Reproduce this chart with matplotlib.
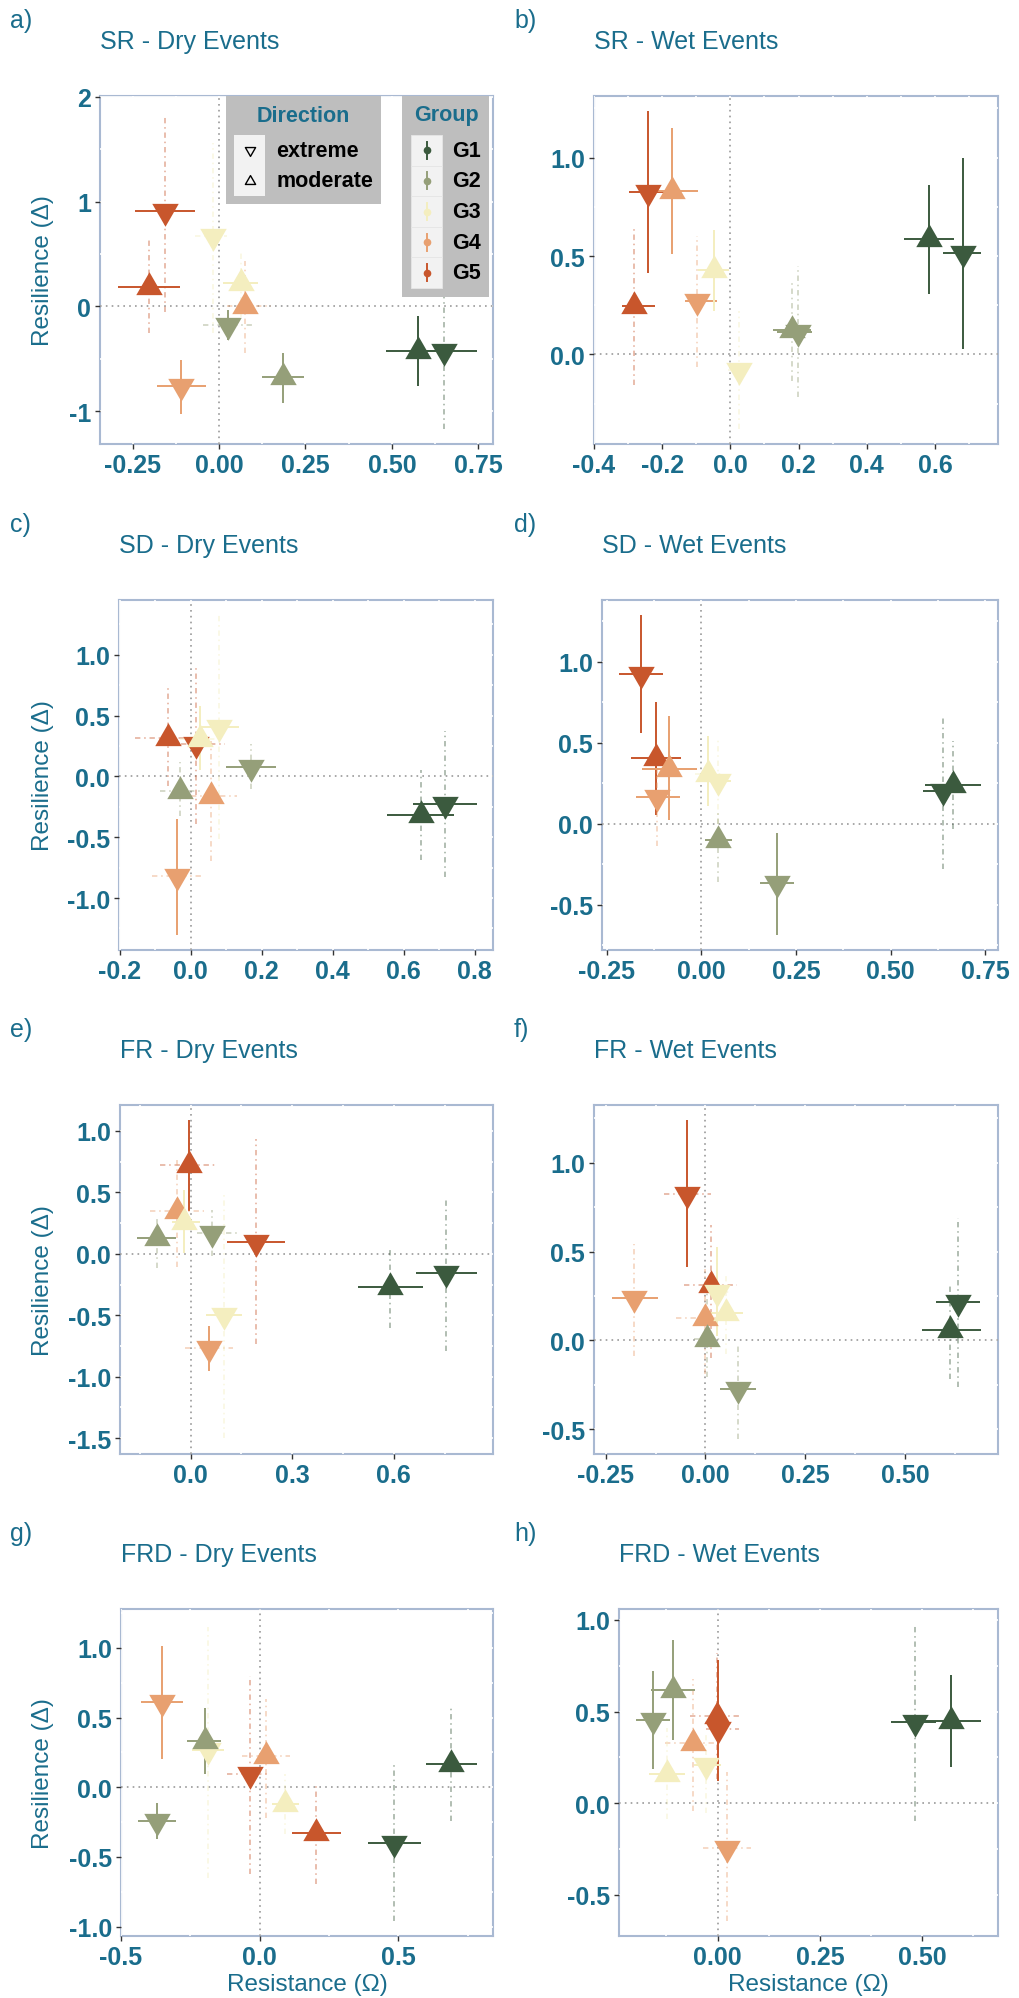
import numpy as np
import matplotlib.pyplot as plt
from matplotlib.path import Path
from matplotlib.patches import Rectangle
from matplotlib.lines import Line2D

plt.rcParams['font.family'] = ['Liberation Sans', 'DejaVu Sans']

W, H = 1019, 1999
TEAL = '#1a6d8c'
SPINE = '#a9b9d2'

GROUPS = ['G1', 'G2', 'G3', 'G4', 'G5']
GROUP_COLORS = {'G1': '#3b5a3e', 'G2': '#959f79', 'G3': '#f4eebf',
                'G4': '#e8a070', 'G5': '#c8562c'}
DIRECTIONS = ['extreme', 'moderate']

# group, direction, x, x_lo, x_hi, x_solid, y, y_lo, y_hi, y_solid
SR_DRY = [
    ('G1', 'extreme', 0.650, 0.564, 0.747, 1, -0.420, -1.170, 0.330, 0),
    ('G1', 'moderate', 0.576, 0.482, 0.626, 1, -0.422, -0.760, -0.095, 1),
    ('G2', 'extreme', 0.026, -0.046, 0.100, 0, -0.175, -0.320, -0.030, 1),
    ('G2', 'moderate', 0.184, 0.125, 0.245, 1, -0.676, -0.920, -0.440, 1),
    ('G3', 'extreme', -0.017, -0.071, 0.023, 0, 0.673, -0.250, 1.560, 0),
    ('G3', 'moderate', 0.062, 0.012, 0.112, 1, 0.220, -0.100, 0.510, 0),
    ('G4', 'extreme', -0.110, -0.181, -0.038, 1, -0.760, -1.020, -0.510, 1),
    ('G4', 'moderate', 0.076, 0.023, 0.149, 0, 0.000, -0.440, 0.430, 0),
    ('G5', 'extreme', -0.158, -0.244, -0.071, 1, 0.905, -0.050, 1.825, 0),
    ('G5', 'moderate', -0.202, -0.293, -0.112, 1, 0.190, -0.250, 0.630, 0),
]
SR_WET = [
    ('G1', 'extreme', 0.681, 0.625, 0.734, 1, 0.514, 0.030, 0.998, 1),
    ('G1', 'moderate', 0.583, 0.508, 0.656, 1, 0.585, 0.306, 0.860, 1),
    ('G2', 'extreme', 0.197, 0.138, 0.239, 1, 0.112, -0.218, 0.450, 0),
    ('G2', 'moderate', 0.180, 0.124, 0.236, 1, 0.125, -0.134, 0.374, 0),
    ('G3', 'extreme', 0.025, -0.008, 0.060, 0, -0.080, -0.380, 0.222, 0),
    ('G3', 'moderate', -0.049, -0.095, -0.003, 1, 0.430, 0.222, 0.633, 1),
    ('G4', 'extreme', -0.097, -0.134, -0.039, 1, 0.272, -0.066, 0.602, 0),
    ('G4', 'moderate', -0.171, -0.249, -0.095, 1, 0.831, 0.509, 1.152, 1),
    ('G5', 'extreme', -0.241, -0.298, -0.185, 1, 0.826, 0.413, 1.237, 1),
    ('G5', 'moderate', -0.282, -0.319, -0.220, 1, 0.247, -0.156, 0.650, 0),
]
SD_DRY = [
    ('G1', 'extreme', 0.716, 0.627, 0.807, 1, -0.228, -0.823, 0.376, 0),
    ('G1', 'moderate', 0.649, 0.553, 0.741, 1, -0.318, -0.689, 0.052, 0),
    ('G2', 'extreme', 0.169, 0.100, 0.241, 1, 0.080, -0.100, 0.270, 0),
    ('G2', 'moderate', -0.031, -0.087, 0.025, 0, -0.123, -0.324, 0.115, 0),
    ('G3', 'extreme', 0.080, 0.025, 0.136, 1, 0.410, -0.516, 1.328, 0),
    ('G3', 'moderate', 0.025, -0.030, 0.090, 0, 0.307, 0.052, 0.576, 1),
    ('G4', 'extreme', -0.038, -0.108, 0.031, 0, -0.820, -1.303, -0.346, 1),
    ('G4', 'moderate', 0.058, 0.002, 0.131, 0, -0.159, -0.694, 0.294, 0),
    ('G5', 'extreme', 0.014, -0.026, 0.096, 0, 0.270, -0.390, 0.900, 0),
    ('G5', 'moderate', -0.064, -0.158, 0.030, 0, 0.316, -0.077, 0.727, 0),
]
SD_WET = [
    ('G1', 'extreme', 0.639, 0.586, 0.692, 1, 0.202, -0.278, 0.652, 0),
    ('G1', 'moderate', 0.664, 0.591, 0.739, 1, 0.237, -0.031, 0.507, 0),
    ('G2', 'extreme', 0.199, 0.155, 0.245, 1, -0.369, -0.689, -0.056, 1),
    ('G2', 'moderate', 0.044, 0.010, 0.080, 1, -0.103, -0.359, 0.068, 0),
    ('G3', 'extreme', 0.044, 0.005, 0.077, 1, 0.264, 0.000, 0.526, 0),
    ('G3', 'moderate', 0.017, -0.017, 0.058, 0, 0.305, 0.109, 0.542, 1),
    ('G4', 'extreme', -0.118, -0.173, -0.058, 1, 0.165, -0.140, 0.470, 0),
    ('G4', 'moderate', -0.085, -0.158, -0.011, 1, 0.340, 0.023, 0.662, 1),
    ('G5', 'extreme', -0.160, -0.217, -0.103, 1, 0.924, 0.557, 1.289, 1),
    ('G5', 'moderate', -0.121, -0.187, -0.055, 1, 0.402, 0.050, 0.750, 1),
]
FR_DRY = [
    ('G1', 'extreme', 0.755, 0.667, 0.847, 1, -0.160, -0.789, 0.440, 0),
    ('G1', 'moderate', 0.588, 0.493, 0.685, 1, -0.268, -0.607, 0.043, 0),
    ('G2', 'extreme', 0.064, 0.018, 0.136, 0, 0.168, -0.015, 0.360, 0),
    ('G2', 'moderate', -0.100, -0.157, -0.043, 1, 0.127, -0.117, 0.310, 0),
    ('G3', 'extreme', 0.099, 0.045, 0.153, 1, -0.500, -1.500, 0.499, 0),
    ('G3', 'moderate', -0.020, -0.056, 0.028, 1, 0.260, 0.010, 0.520, 1),
    ('G4', 'extreme', 0.054, -0.017, 0.126, 0, -0.770, -0.950, -0.590, 1),
    ('G4', 'moderate', -0.041, -0.120, 0.039, 0, 0.350, -0.111, 0.790, 0),
    ('G5', 'extreme', 0.193, 0.108, 0.280, 1, 0.097, -0.734, 0.932, 0),
    ('G5', 'moderate', -0.004, -0.090, 0.082, 0, 0.724, 0.350, 1.087, 1),
]
FR_WET = [
    ('G1', 'extreme', 0.631, 0.578, 0.687, 1, 0.214, -0.265, 0.692, 0),
    ('G1', 'moderate', 0.613, 0.541, 0.689, 1, 0.060, -0.218, 0.304, 0),
    ('G2', 'extreme', 0.081, 0.037, 0.126, 1, -0.274, -0.555, -0.021, 0),
    ('G2', 'moderate', 0.003, -0.030, 0.037, 0, 0.008, -0.208, 0.280, 0),
    ('G3', 'extreme', 0.030, -0.005, 0.065, 0, 0.270, 0.026, 0.527, 1),
    ('G3', 'moderate', 0.051, 0.012, 0.095, 1, 0.154, -0.077, 0.373, 0),
    ('G4', 'extreme', -0.178, -0.234, -0.119, 1, 0.236, -0.086, 0.542, 0),
    ('G4', 'moderate', -0.001, -0.074, 0.028, 0, 0.126, -0.190, 0.400, 0),
    ('G5', 'extreme', -0.047, -0.105, 0.013, 0, 0.827, 0.411, 1.242, 1),
    ('G5', 'moderate', 0.014, -0.055, 0.078, 0, 0.313, -0.100, 0.650, 0),
]
FRD_DRY = [
    ('G1', 'extreme', 0.484, 0.389, 0.580, 1, -0.398, -0.960, 0.177, 0),
    ('G1', 'moderate', 0.691, 0.601, 0.784, 1, 0.163, -0.242, 0.565, 0),
    ('G2', 'extreme', -0.369, -0.438, -0.301, 1, -0.242, -0.374, -0.115, 1),
    ('G2', 'moderate', -0.198, -0.261, -0.138, 1, 0.333, 0.093, 0.572, 1),
    ('G3', 'extreme', -0.186, -0.243, -0.129, 1, 0.266, -0.649, 1.147, 0),
    ('G3', 'moderate', 0.092, 0.044, 0.143, 1, -0.117, -0.338, 0.093, 0),
    ('G4', 'extreme', -0.351, -0.429, -0.275, 1, 0.608, 0.201, 1.016, 1),
    ('G4', 'moderate', 0.023, -0.063, 0.108, 0, 0.225, -0.218, 0.632, 0),
    ('G5', 'extreme', -0.034, -0.117, 0.038, 0, 0.093, -0.625, 0.795, 0),
    ('G5', 'moderate', 0.204, 0.116, 0.292, 1, -0.326, -0.697, 0.022, 0),
]
FRD_WET = [
    ('G1', 'extreme', 0.481, 0.424, 0.534, 1, 0.444, -0.097, 0.978, 0),
    ('G1', 'moderate', 0.569, 0.503, 0.644, 1, 0.448, 0.195, 0.699, 1),
    ('G2', 'extreme', -0.158, -0.200, -0.116, 1, 0.454, 0.186, 0.719, 1),
    ('G2', 'moderate', -0.109, -0.162, -0.056, 1, 0.619, 0.346, 0.892, 1),
    ('G3', 'extreme', -0.028, -0.058, 0.009, 1, 0.208, -0.051, 0.377, 0),
    ('G3', 'moderate', -0.124, -0.168, -0.079, 1, 0.162, -0.087, 0.408, 0),
    ('G4', 'extreme', 0.023, -0.036, 0.082, 0, -0.242, -0.643, 0.168, 0),
    ('G4', 'moderate', -0.059, -0.129, -0.002, 0, 0.326, -0.042, 0.678, 0),
    ('G5', 'extreme', 0.000, -0.028, 0.052, 0, 0.404, 0.120, 0.780, 1),
    ('G5', 'moderate', -0.002, -0.068, 0.059, 0, 0.477, 0.130, 0.820, 0),
]

# label, title, rows, box (left, right, top, bottom px), xlim, ylim,
# xticks, yticks, x format, y format
PANELS = [
    ('a)', 'SR - Dry Events', SR_DRY, (100, 493, 97, 445),
     (-0.345, 0.793), (-1.31, 2.005), [-0.25, 0, 0.25, 0.5, 0.75], [-1, 0, 1, 2], '{:.2f}', '{:.0f}'),
    ('b)', 'SR - Wet Events', SR_WET, (594, 998, 97, 445),
     (-0.398, 0.785), (-0.455, 1.313), [-0.4, -0.2, 0, 0.2, 0.4, 0.6], [0, 0.5, 1.0], '{:.1f}', '{:.1f}'),
    ('c)', 'SD - Dry Events', SD_DRY, (119, 493, 601, 951),
     (-0.202, 0.852), (-1.427, 1.451), [-0.2, 0, 0.2, 0.4, 0.6, 0.8], [-1, -0.5, 0, 0.5, 1], '{:.1f}', '{:.1f}'),
    ('d)', 'SD - Wet Events', SD_WET, (602, 998, 601, 951),
     (-0.263, 0.784), (-0.781, 1.381), [-0.25, 0, 0.25, 0.5, 0.75], [-0.5, 0, 0.5, 1], '{:.2f}', '{:.1f}'),
    ('e)', 'FR - Dry Events', FR_DRY, (120, 493, 1106, 1455),
     (-0.2085, 0.893), (-1.629, 1.211), [0, 0.3, 0.6], [-1.5, -1, -0.5, 0, 0.5, 1], '{:.1f}', '{:.1f}'),
    ('f)', 'FR - Wet Events', FR_WET, (594, 998, 1106, 1455),
     (-0.279, 0.732), (-0.64, 1.326), [-0.25, 0, 0.25, 0.5], [-0.5, 0, 0.5, 1], '{:.2f}', '{:.1f}'),
    ('g)', 'FRD - Dry Events', FRD_DRY, (121, 493, 1610, 1937),
     (-0.498, 0.841), (-1.068, 1.279), [-0.5, 0, 0.5], [-1, -0.5, 0, 0.5, 1], '{:.1f}', '{:.1f}'),
    ('h)', 'FRD - Wet Events', FRD_WET, (619, 998, 1610, 1937),
     (-0.241, 0.685), (-0.725, 1.06), [0, 0.25, 0.5], [-0.5, 0, 0.5, 1], '{:.2f}', '{:.1f}'),
]


def triangle(up=True):
    # centroid sits on the data point
    h = np.sqrt(3) / 2
    s = 1 if up else -1
    verts = [(0, s * 2 * h / 3), (-0.5, -s * h / 3), (0.5, -s * h / 3), (0, s * 2 * h / 3)]
    codes = [Path.MOVETO, Path.LINETO, Path.LINETO, Path.CLOSEPOLY]
    return Path(verts, codes)


TRI = {'extreme': triangle(False), 'moderate': triangle(True)}
DOTDASH = (0, (3.5, 2.5, 1, 2.5))


def fig_xy(x, y):
    return x / W, 1 - y / H


def minor_ticks(major, lim):
    step = major[1] - major[0]
    cand = [major[0] - step / 2] + [m + step / 2 for m in major]
    return [c for c in cand if lim[0] < c < lim[1]]


def draw_panel(ax, rows):
    ordered = sorted(rows, key=lambda r: -GROUPS.index(r[0]))
    ax.axhline(0, color='#9a9a9a', lw=1.2, ls=(0, (1, 2.5)), zorder=1)
    ax.axvline(0, color='#9a9a9a', lw=1.2, ls=(0, (1, 2.5)), zorder=1)
    for g, d, x, xlo, xhi, xs, y, ylo, yhi, ys in ordered:
        c = GROUP_COLORS[g]
        for xx, yy, solid in (([xlo, xhi], [y, y], xs), ([x, x], [ylo, yhi], ys)):
            if solid:
                ax.plot(xx, yy, color=c, lw=1.4, solid_capstyle='butt', zorder=2)
            else:
                ax.plot(xx, yy, color=c, lw=1.1, ls=DOTDASH, alpha=0.5, zorder=2)
    for g, d, x, xlo, xhi, xs, y, ylo, yhi, ys in ordered:
        ax.plot([x], [y], ls='none', marker=TRI[d], ms=22, mew=0,
                color=GROUP_COLORS[g], zorder=3)


fig = plt.figure(figsize=(W / 100, H / 100), dpi=100)

for i, (lab, title, rows, box, xlim, ylim, xt, yt, xf, yf) in enumerate(PANELS):
    l, r, t, b = box
    ax = fig.add_axes([l / W, 1 - b / H, (r - l) / W, (b - t) / H])
    draw_panel(ax, rows)
    ax.set_xlim(*xlim)
    ax.set_ylim(*ylim)
    ax.set_xticks(xt, labels=[xf.format(v) for v in xt], fontweight='bold')
    ax.set_yticks(yt, labels=[yf.format(v) for v in yt], fontweight='bold')
    ax.set_xticks(minor_ticks(xt, xlim), minor=True)
    ax.set_yticks(minor_ticks(yt, ylim), minor=True)
    ax.tick_params(which='major', direction='out', length=3.5, width=1,
                   color='#333333', labelcolor=TEAL, labelsize=18, pad=3)
    ax.tick_params(which='minor', length=0)
    ax.set_axisbelow(True)
    ax.grid(True, which='both', color='white', lw=1.2)
    for sp in ax.spines.values():
        sp.set_color(SPINE)
        sp.set_linewidth(1.5)
        sp.set_zorder(0.3)

    col_left = i % 2 == 0
    fig.text(*fig_xy(10 if col_left else 514, t - 69), lab, color=TEAL,
             fontsize=18, ha='left', va='baseline')
    fig.text(*fig_xy(l, t - 48), title, color=TEAL, fontsize=18,
             ha='left', va='baseline')
    if col_left:
        fig.text(*fig_xy(43, (t + b) / 2), 'Resilience (Δ)', color=TEAL,
                 fontsize=17.5, rotation=90, ha='center', va='center')
    if i >= 6:
        fig.text(*fig_xy((l + r) / 2, 1985), 'Resistance (Ω)', color=TEAL,
                 fontsize=17.5, ha='center', va='center')


def fig_rect(x0, y0, x1, y1, color, z, edge='none'):
    fig.add_artist(Rectangle(fig_xy(x0, y1), (x1 - x0) / W, (y1 - y0) / H,
                             transform=fig.transFigure, facecolor=color,
                             edgecolor=edge, lw=0.6, zorder=z))


# Direction legend
fig_rect(226, 97, 381, 205, '#bebebe', 5)
fig.text(*fig_xy(303, 116), 'Direction', color=TEAL, fontsize=15.5,
         fontweight='bold', ha='center', va='center', zorder=8)
for k, d in enumerate(DIRECTIONS):
    y0 = 136 + k * 30.5
    fig_rect(234, y0, 265, y0 + 30.5, '#f2f2f2', 6)
    cy = y0 + 15.2
    fig.add_artist(Line2D([250 / W], [1 - cy / H], transform=fig.transFigure,
                          marker=TRI[d], ms=8.5, mfc='none', mec='black',
                          mew=1.0, ls='none', zorder=7))
    fig.text(*fig_xy(276, cy), d, color='black', fontsize=15.5,
             fontweight='bold', ha='left', va='center', zorder=8)

# Group legend
fig_rect(402, 97, 489, 298, '#bebebe', 5)
fig.text(*fig_xy(446, 116), 'Group', color=TEAL, fontsize=15.5,
         fontweight='bold', ha='center', va='center', zorder=8)
for k, g in enumerate(GROUPS):
    y0 = 136 + k * 30.6
    fig_rect(411, y0, 442, y0 + 30.6, '#f2f2f2', 6, edge='#e6e6e6')
    cy = y0 + 15.3
    c = GROUP_COLORS[g]
    fig.add_artist(Line2D([427 / W, 427 / W], [1 - (cy - 8.5) / H, 1 - (cy + 8.5) / H],
                          transform=fig.transFigure, color=c, lw=1.4, zorder=7))
    fig.add_artist(Line2D([427 / W], [1 - cy / H], transform=fig.transFigure,
                          marker='o', ms=5.5, color=c, mew=0, ls='none', zorder=7))
    fig.text(*fig_xy(452, cy), g, color='black', fontsize=15.5,
             fontweight='bold', ha='left', va='center', zorder=8)

fig.savefig('out.png', dpi=100)
